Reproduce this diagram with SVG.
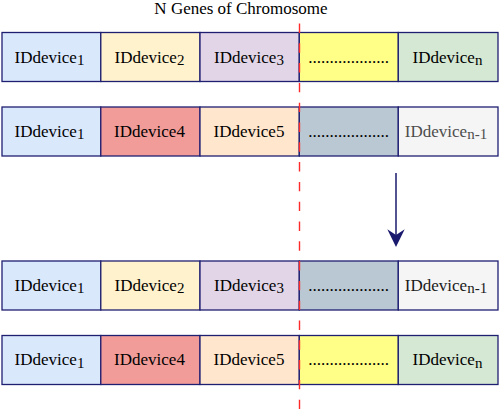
<svg xmlns="http://www.w3.org/2000/svg" width="500" height="411" viewBox="0 0 500 411">
<defs>
<style>
.c{stroke:#1f1f72;stroke-width:1.3}
.t{font-family:'Liberation Serif',serif;font-size:17px;fill:#000;text-anchor:middle}
.s{font-size:15px}
.blue{fill:#dae8fc}.yel{fill:#fff2cc}.pur{fill:#e1d5e7}.ylw{fill:#ffff88}.grn{fill:#d5e8d4}
.red{fill:#f19c99}.pch{fill:#ffe6cc}.gb{fill:#bac8d3}.gry{fill:#f5f5f5}
</style>
</defs>
<rect width="500" height="411" fill="#fff"/>
<text class="t" x="241" y="14">N Genes of Chromosome</text>

<g id="row1">
<g id="r1c1"><rect class="c blue" x="2" y="32.5" width="98.8" height="49"/><text class="t" x="49.5" y="62.5">IDdevice<tspan class="s" dy="2.5">1</tspan></text></g>
<g id="r1c2"><rect class="c yel" x="100.8" y="32.5" width="99.2" height="49"/><text class="t" x="149.5" y="62.5">IDdevice<tspan class="s" dy="2.5">2</tspan></text></g>
<g id="r1c3"><rect class="c pur" x="200" y="32.5" width="99.3" height="49"/><text class="t" x="249" y="62.5">IDdevice<tspan class="s" dy="2.5">3</tspan></text></g>
<g id="r1c4"><rect class="c ylw" x="299.3" y="32.5" width="99" height="49"/><text class="t" x="348.5" y="62.5">...................</text></g>
<g id="r1c5"><rect class="c grn" x="398.3" y="32.5" width="99.7" height="49"/><text class="t" x="447.5" y="62.5">IDdevice<tspan class="s" dy="2.5">n</tspan></text></g>
</g>

<g id="row2">
<g id="r2c1"><rect class="c blue" x="2" y="107" width="98.8" height="49"/><text class="t" x="49.5" y="136.5">IDdevice<tspan class="s" dy="2.5">1</tspan></text></g>
<g id="r2c2"><rect class="c red" x="100.8" y="107" width="99.2" height="49"/><text class="t" x="149.5" y="136.5">IDdevice4</text></g>
<g id="r2c3"><rect class="c pch" x="200" y="107" width="99.3" height="49"/><text class="t" x="249" y="136.5">IDdevice5</text></g>
<g id="r2c4"><rect class="c gb" x="299.3" y="107" width="99" height="49"/><text class="t" x="348.5" y="136.5">...................</text></g>
<g id="r2c5"><rect class="c gry" x="398.3" y="107" width="99.7" height="49"/><text class="t" x="446" y="136.5" style="fill:#4d4d4d">IDdevice<tspan class="s" dy="2.5">n-1</tspan></text></g>
</g>

<g id="row3">
<g id="r3c1"><rect class="c blue" x="2" y="261" width="98.8" height="49"/><text class="t" x="49.5" y="290.5">IDdevice<tspan class="s" dy="2.5">1</tspan></text></g>
<g id="r3c2"><rect class="c yel" x="100.8" y="261" width="99.2" height="49"/><text class="t" x="149.5" y="290.5">IDdevice<tspan class="s" dy="2.5">2</tspan></text></g>
<g id="r3c3"><rect class="c pur" x="200" y="261" width="99.3" height="49"/><text class="t" x="249" y="290.5">IDdevice<tspan class="s" dy="2.5">3</tspan></text></g>
<g id="r3c4"><rect class="c gb" x="299.3" y="261" width="99" height="49"/><text class="t" x="348.5" y="290.5">...................</text></g>
<g id="r3c5"><rect class="c gry" x="398.3" y="261" width="99.7" height="49"/><text class="t" x="446" y="290.5" style="fill:#1a1a1a">IDdevice<tspan class="s" dy="2.5">n-1</tspan></text></g>
</g>

<g id="row4">
<g id="r4c1"><rect class="c blue" x="2" y="335.5" width="98.8" height="49"/><text class="t" x="49.5" y="365">IDdevice<tspan class="s" dy="2.5">1</tspan></text></g>
<g id="r4c2"><rect class="c red" x="100.8" y="335.5" width="99.2" height="49"/><text class="t" x="149.5" y="365">IDdevice4</text></g>
<g id="r4c3"><rect class="c pch" x="200" y="335.5" width="99.3" height="49"/><text class="t" x="249" y="365">IDdevice5</text></g>
<g id="r4c4"><rect class="c ylw" x="299.3" y="335.5" width="99" height="49"/><text class="t" x="348.5" y="365">...................</text></g>
<g id="r4c5"><rect class="c grn" x="398.3" y="335.5" width="99.7" height="49"/><text class="t" x="447.5" y="365">IDdevice<tspan class="s" dy="2.5">n</tspan></text></g>
</g>

<g id="divider">
<line x1="299.5" y1="23.5" x2="299.5" y2="411" stroke="#ff2a2a" stroke-width="1.4" stroke-dasharray="9.4 10.4"/>
</g>

<g id="connectors">
<line x1="396" y1="173" x2="396" y2="236" stroke="#1a1a6e" stroke-width="1.5"/>
<polygon points="387.3,229.3 396,235 404.7,229.3 396,247" fill="#1a1a6e"/>
</g>
</svg>
